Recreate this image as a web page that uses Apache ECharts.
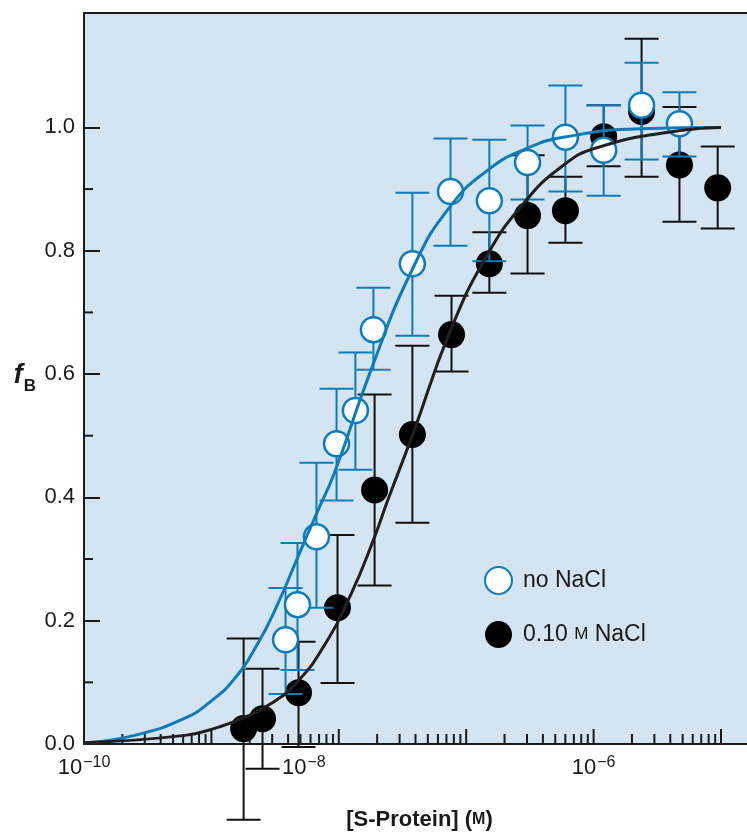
<!DOCTYPE html>
<html>
<head>
<meta charset="utf-8">
<style>
  html, body { margin: 0; padding: 0; background: #fff; }
  #chart { width: 747px; height: 832px; }
</style>
<script src="https://cdn.jsdelivr.net/npm/echarts@6/dist/echarts.min.js"></script>
</head>
<body>
<div id="chart"></div>
<script>
var FONT = "'Liberation Sans', Arial, Helvetica, sans-serif";
var ink = '#1a1a1a';
var blue = '#0b7cb8';
var dark = '#231f20';
var panel = '#d5e4f1';

var xMin = 1e-10;
var xMax = 1.6e-5;
var yMax = 1.1856;

// no NaCl: concentration (M), fraction bound, error bar low / high
var noSaltConc = [3.82e-9, 4.74e-9, 6.68e-9, 9.6e-9, 1.35e-8, 1.87e-8, 3.78e-8, 7.53e-8, 1.52e-7, 3.03e-7, 6.01e-7, 1.20e-6, 2.38e-6, 4.72e-6];
var noSaltFb   = [0.169, 0.226, 0.336, 0.487, 0.541, 0.672, 0.779, 0.896, 0.881, 0.943, 0.984, 0.963, 1.036, 1.006];
var noSaltLow  = [0.081, 0.120, 0.221, 0.395, 0.445, 0.607, 0.662, 0.808, 0.783, 0.883, 0.896, 0.889, 0.948, 0.953];
var noSaltHigh = [0.253, 0.326, 0.456, 0.576, 0.635, 0.740, 0.894, 0.982, 0.980, 1.003, 1.068, 1.036, 1.105, 1.057];

// 0.10 M NaCl
var saltConc = [1.79e-9, 2.52e-9, 4.83e-9, 9.77e-9, 1.91e-8, 3.78e-8, 7.67e-8, 1.52e-7, 3.03e-7, 6.01e-7, 1.20e-6, 2.38e-6, 4.72e-6, 9.42e-6];
var saltFb   = [0.025, 0.041, 0.083, 0.221, 0.412, 0.502, 0.664, 0.779, 0.857, 0.865, 0.985, 1.026, 0.939, 0.902];
var saltLow  = [-0.123, -0.040, -0.005, 0.099, 0.257, 0.359, 0.604, 0.732, 0.763, 0.813, 0.937, 0.920, 0.847, 0.836];
var saltHigh = [0.171, 0.122, 0.166, 0.339, 0.567, 0.646, 0.727, 0.830, 0.955, 0.920, 1.036, 1.144, 1.033, 0.969];

// fitted binding curves
var noSaltFitConc = [1e-10, 2.5e-10, 6.2e-10, 1e-9, 1.52e-9, 2.3e-9, 3.3e-9, 4.74e-9, 6.8e-9, 9.25e-9, 1.77e-8, 3.78e-8, 7.5e-8, 1.55e-7, 3.0e-7, 5.8e-7, 2.33e-6, 1e-5];
var noSaltFitFb   = [0.002, 0.014, 0.042, 0.070, 0.106, 0.162, 0.226, 0.302, 0.377, 0.440, 0.604, 0.770, 0.872, 0.934, 0.966, 0.984, 0.998, 1.0];
var saltFitConc = [1e-10, 6.2e-10, 1.12e-9, 1.82e-9, 2.96e-9, 4.74e-9, 7.7e-9, 1.26e-8, 1.91e-8, 2.41e-8, 3.85e-8, 7.5e-8, 1.47e-7, 2.8e-7, 5.5e-7, 1.06e-6, 4.8e-6, 1e-5];
var saltFitFb   = [0.002, 0.014, 0.027, 0.043, 0.066, 0.101, 0.160, 0.245, 0.336, 0.394, 0.505, 0.670, 0.794, 0.876, 0.935, 0.967, 0.995, 1.0];

// tick layout
var xLabelExponents = [-10, -8, -6];
var xDecades = [-10, -9, -8, -7, -6, -5];
var xMinorSteps = [2, 3, 4, 5, 6, 7, 8, 9];
var yMinorTicks = [0.1, 0.3, 0.5, 0.7, 0.9];

function zip(a, b) {
  return a.map(function(v, i) { return [v, b[i]]; });
}
function bars(x, lo, hi) {
  return x.map(function(v, i) { return [v, lo[i], hi[i]]; });
}

var xTickData = [];
xDecades.forEach(function(e) {
  var d = Math.pow(10, e);
  xTickData.push([d, 15]);
  xMinorSteps.forEach(function(m) {
    if (m * d < xMax) xTickData.push([m * d, 10]);
  });
});

function errorBars(color) {
  return function(params, api) {
    var hi = api.coord([api.value(0), api.value(2)]);
    var lo = api.coord([api.value(0), api.value(1)]);
    var w = 17;
    var st = { stroke: color, lineWidth: 2 };
    return {
      type: 'group',
      children: [
        { type: 'line', shape: { x1: hi[0], y1: hi[1], x2: lo[0], y2: lo[1] }, style: st },
        { type: 'line', shape: { x1: hi[0] - w, y1: hi[1], x2: hi[0] + w, y2: hi[1] }, style: st },
        { type: 'line', shape: { x1: lo[0] - w, y1: lo[1], x2: lo[0] + w, y2: lo[1] }, style: st }
      ]
    };
  };
}

var chart = echarts.init(document.getElementById('chart'), null, { renderer: 'canvas' });

chart.setOption({
  animation: false,
  backgroundColor: '#fff',
  textStyle: { fontFamily: FONT },
  grid: {
    left: 84, right: 0, top: 13, bottom: 88,
    show: true, backgroundColor: panel, borderWidth: 0,
    containLabel: false, outerBoundsMode: 'none'
  },
  legend: {
    data: ['no NaCl', '0.10 M NaCl'],
    orient: 'vertical',
    left: 479, top: 561,
    itemWidth: 27, itemHeight: 27, itemGap: 26,
    selectedMode: false,
    formatter: function(name) {
      return name === '0.10 M NaCl' ? '0.10 {sc|M} NaCl' : name;
    },
    textStyle: {
      color: ink, fontFamily: FONT, fontSize: 23, padding: [0, 0, 0, 6],
      rich: { sc: { fontFamily: FONT, fontSize: 17, color: ink } }
    }
  },
  xAxis: [{
    type: 'log',
    logBase: 10,
    min: xMin, max: xMax,
    splitNumber: 5,
    name: '[S-Protein] ({sc|M})',
    nameLocation: 'middle',
    nameGap: 65,
    nameTextStyle: {
      color: ink, fontFamily: FONT, fontSize: 22, fontWeight: 'bold', padding: [0, 0, 0, 8],
      rich: { sc: { fontFamily: FONT, fontSize: 16, fontWeight: 'bold', color: ink } }
    },
    axisLine: { lineStyle: { color: ink, width: 2 } },
    axisTick: { show: false },
    splitLine: { show: false },
    axisLabel: {
      margin: 11,
      color: ink,
      formatter: function(v) {
        var e = Math.round(Math.log(v) / Math.LN10);
        if (Math.abs(v / Math.pow(10, e) - 1) > 1e-6) return '';
        if (xLabelExponents.indexOf(e) < 0) return '';
        var s = '{b|10}{s|\u2212' + (-e) + '}';
        if (e === -8) s += '{gap|}';
        return s;
      },
      rich: {
        b: { fontFamily: FONT, fontSize: 22, color: ink, lineHeight: 24, verticalAlign: 'bottom' },
        s: { fontFamily: FONT, fontSize: 16, color: ink, lineHeight: 24, verticalAlign: 'top', padding: [0, 0, 8, 1] },
        gap: { width: 70 }
      }
    }
  }, {
    type: 'log',
    logBase: 10,
    position: 'top',
    min: xMin, max: xMax,
    axisLine: { lineStyle: { color: ink, width: 2 } },
    axisTick: { show: false },
    axisLabel: { show: false },
    splitLine: { show: false }
  }],
  yAxis: {
    type: 'value',
    min: 0, max: yMax, interval: 0.2,
    name: '{f|f}{b|B}',
    nameLocation: 'middle',
    nameRotate: 0,
    nameGap: 48,
    nameTextStyle: {
      rich: {
        f: { fontFamily: FONT, fontSize: 27, fontStyle: 'italic', fontWeight: 'bold', color: ink, verticalAlign: 'bottom', padding: [0, 1, 6, 0] },
        b: { fontFamily: FONT, fontSize: 17, fontWeight: 'bold', color: ink, verticalAlign: 'bottom' }
      }
    },
    axisLine: { show: true, lineStyle: { color: ink, width: 2 } },
    axisTick: { show: true, inside: true, length: 16, lineStyle: { color: ink, width: 2 } },
    splitLine: { show: false },
    axisLabel: {
      margin: 9,
      color: ink, fontFamily: FONT, fontSize: 22,
      formatter: function(v) {
        if (Math.abs(v * 5 - Math.round(v * 5)) > 1e-6 || v > 1.01) return '';
        return v.toFixed(1);
      }
    }
  },
  series: [
    {
      name: 'x ticks',
      type: 'custom',
      silent: true,
      z: 1,
      data: xTickData,
      renderItem: function(params, api) {
        var p = api.coord([api.value(0), 0]);
        return { type: 'line', shape: { x1: p[0], y1: p[1], x2: p[0], y2: p[1] - api.value(1) }, style: { stroke: ink, lineWidth: 2 } };
      }
    },
    {
      name: 'y minor ticks',
      type: 'custom',
      silent: true,
      z: 1,
      data: yMinorTicks.map(function(v) { return [xMin, v]; }),
      renderItem: function(params, api) {
        var p = api.coord([api.value(0), api.value(1)]);
        return { type: 'line', shape: { x1: p[0], y1: p[1], x2: p[0] + 9, y2: p[1] }, style: { stroke: ink, lineWidth: 2 } };
      }
    },
    {
      name: 'salt error',
      type: 'custom',
      silent: true,
      z: 2,
      clip: false,
      data: bars(saltConc, saltLow, saltHigh),
      encode: { x: 0, y: [1, 2] },
      renderItem: errorBars('#111')
    },
    {
      name: '0.10 M NaCl',
      type: 'scatter',
      z: 3,
      symbol: 'circle',
      symbolSize: 27,
      data: zip(saltConc, saltFb),
      itemStyle: { color: '#000', opacity: 1 }
    },
    {
      name: 'no salt error',
      type: 'custom',
      silent: true,
      z: 4,
      clip: false,
      data: bars(noSaltConc, noSaltLow, noSaltHigh),
      encode: { x: 0, y: [1, 2] },
      renderItem: errorBars(blue)
    },
    {
      name: 'no NaCl',
      type: 'scatter',
      z: 5,
      symbol: 'circle',
      symbolSize: 25,
      data: zip(noSaltConc, noSaltFb),
      itemStyle: { color: '#fff', borderColor: blue, borderWidth: 2.5, opacity: 1 }
    },
    {
      name: 'fit no NaCl',
      type: 'line',
      z: 6,
      silent: true,
      smooth: 0.5,
      showSymbol: false,
      symbol: 'none',
      data: zip(noSaltFitConc, noSaltFitFb),
      lineStyle: { color: blue, width: 3 }
    },
    {
      name: 'fit NaCl',
      type: 'line',
      z: 6,
      silent: true,
      smooth: 0.5,
      showSymbol: false,
      symbol: 'none',
      data: zip(saltFitConc, saltFitFb),
      lineStyle: { color: dark, width: 3 }
    }
  ]
});
window.addEventListener('resize', function() { chart.resize(); });
</script>
</body>
</html>
